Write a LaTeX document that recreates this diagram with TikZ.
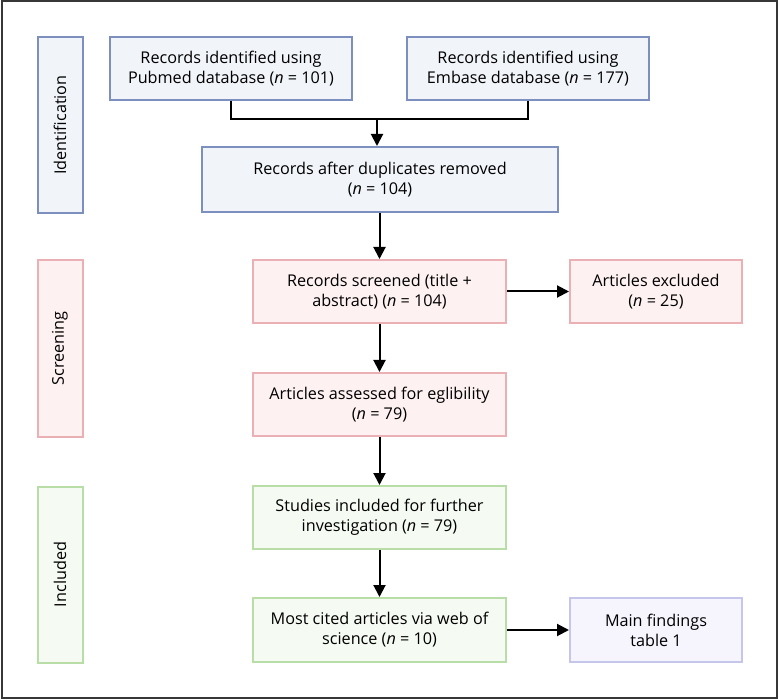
\documentclass[tikz,border=0pt]{standalone}
\usepackage{fontspec}
\setmainfont{Open Sans}
\usetikzlibrary{arrows.meta}
\definecolor{bstroke}{HTML}{7D8FBE}
\definecolor{bfill}{HTML}{F1F4F9}
\definecolor{pstroke}{HTML}{EAB0B3}
\definecolor{pfill}{HTML}{FDF1F1}
\definecolor{gstroke}{HTML}{B8DDA6}
\definecolor{gfill}{HTML}{F5FBF2}
\definecolor{vstroke}{HTML}{C6C6EC}
\definecolor{vfill}{HTML}{F6F4FD}
\tikzset{
  txt/.style={font=\fontsize{16.2}{20}\selectfont},
  box/.style={draw, line width=2pt, inner sep=0pt, align=center, txt},
  bluebox/.style={box, draw=bstroke, fill=bfill},
  pinkbox/.style={box, draw=pstroke, fill=pfill},
  greenbox/.style={box, draw=gstroke, fill=gfill},
  violetbox/.style={box, draw=vstroke, fill=vfill},
  conn/.style={line width=2pt, black},
  arr/.style={conn, -{Triangle[length=12pt,width=12pt]}},
}
\begin{document}
\begin{tikzpicture}[x=1pt,y=-1pt]
\useasboundingbox (0,0) rectangle (779,700);
\draw[line width=2pt, draw={rgb,255:red,55;green,55;blue,55}] (1.5,1.5) rectangle (777,698);
% stage labels
\node[bluebox, minimum width=45, minimum height=176] (idl) at (60,125) {};
\node[rotate=90, txt] at (idl.center) {Identification};
\node[pinkbox, minimum width=45, minimum height=176] (scl) at (60,348.5) {};
\node[rotate=90, txt] at (scl.center) {Screening};
\node[greenbox, minimum width=45, minimum height=176] (inl) at (60,574.5) {};
\node[rotate=90, txt] at (inl.center) {Included};
% boxes
\node[bluebox, minimum width=242, minimum height=63] (pub) at (231,68.5)
  {Records identified using\\Pubmed database (\textit{n} = 101)};
\node[bluebox, minimum width=242, minimum height=63] (emb) at (528,68.5)
  {Records identified using\\Embase database (\textit{n} = 177)};
\node[bluebox, minimum width=356, minimum height=65] (dup) at (380,179.5)
  {Records after duplicates removed\\(\textit{n} = 104)};
\node[pinkbox, minimum width=253, minimum height=63] (scr) at (379.5,291.5)
  {Records screened (title +\\abstract) (\textit{n} = 104)};
\node[pinkbox, minimum width=172, minimum height=63] (exc) at (656,291.5)
  {Articles excluded\\(\textit{n} = 25)};
\node[pinkbox, minimum width=253, minimum height=63] (ass) at (379.5,404.5)
  {Articles assessed for eglibility\\(\textit{n} = 79)};
\node[greenbox, minimum width=253, minimum height=63] (stu) at (379.5,517.5)
  {Studies included for further\\investigation (\textit{n} = 79)};
\node[greenbox, minimum width=253, minimum height=64] (mos) at (379.5,630)
  {Most cited articles via web of\\science (\textit{n} = 10)};
\node[violetbox, minimum width=172, minimum height=64] (mai) at (656,630)
  {Main findings\\table 1};
% connectors
\coordinate (j) at (377,119);
\draw[conn] (pub.south) |- (j) -| (emb.south);
\draw[arr] (j) -- (j |- dup.north);
\draw[arr] (dup.south -| 379.5,0) -- (scr.north);
\draw[arr] (scr) -- (exc);
\draw[arr] (scr) -- (ass);
\draw[arr] (ass) -- (stu);
\draw[arr] (stu) -- (mos);
\draw[arr] (mos) -- (mai);
\end{tikzpicture}
\end{document}
